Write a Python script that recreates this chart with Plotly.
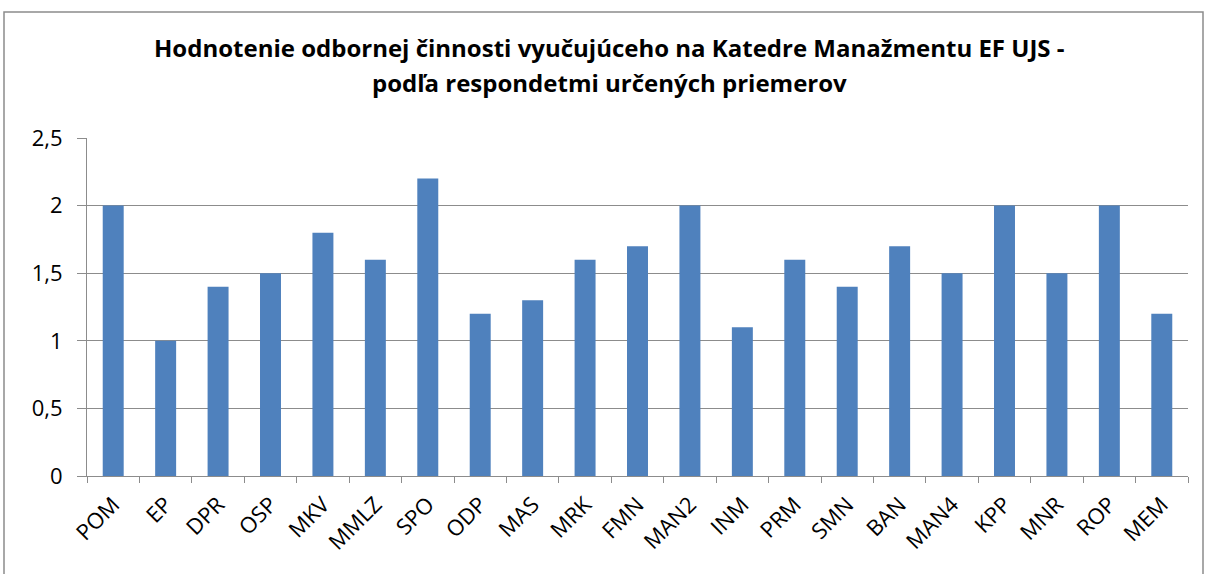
import plotly.graph_objects as go

categories = ["POM", "EP", "DPR", "OSP", "MKV", "MMLZ", "SPO", "ODP", "MAS", "MRK", "FMN",
              "MAN2", "INM", "PRM", "SMN", "BAN", "MAN4", "KPP", "MNR", "ROP", "MEM"]
values = [2.0, 1.0, 1.4, 1.5, 1.8, 1.6, 2.2, 1.2, 1.3, 1.6, 1.7,
          2.0, 1.1, 1.6, 1.4, 1.7, 1.5, 2.0, 1.5, 2.0, 1.2]
y_ticks = [0, 0.5, 1, 1.5, 2, 2.5]
y_tick_labels = ["0", "0,5", "1", "1,5", "2", "2,5"]
title_line1 = "Hodnotenie odbornej činnosti vyučujúceho na Katedre Manažmentu EF UJS -"
title_line2 = "podľa respondetmi určených priemerov"

W, H = 1205, 574
L, R, T, B = 87, 17, 138, 98
pw, ph = W - L - R, H - T - B
FONT = "Open Sans, Lato, sans-serif"


def px_x(x):
    return (x - L) / pw


def px_y(y):
    return 1 + (T - y) / ph


fig = go.Figure(go.Bar(x=categories, y=values, marker=dict(color="#4F81BD", line=dict(width=0))))

grid = "#8c8c8c"
fig.update_layout(
    width=W, height=H,
    margin=dict(l=L, r=R, t=T, b=B),
    paper_bgcolor="white", plot_bgcolor="white",
    bargap=0.6,
    showlegend=False,
    font=dict(family=FONT, color="black"),
    xaxis=dict(type="category", showgrid=False, showline=True, linecolor=grid, linewidth=1,
               ticks="outside", tickson="boundaries", ticklen=6, tickcolor=grid,
               tickangle=-45, tickfont=dict(size=22), ticklabelstandoff=6,
               range=[-0.5, len(categories) - 0.5]),
    yaxis=dict(range=[0, 2.5], tickvals=y_ticks, ticktext=y_tick_labels, showgrid=True,
               gridcolor=grid, gridwidth=1, showline=True, linecolor=grid, linewidth=1,
               ticks="outside", ticklen=9, tickcolor=grid, tickfont=dict(size=22),
               ticklabelstandoff=10, zeroline=False, fixedrange=True),
)

for txt, yy in [(title_line1, 47), (title_line2, 83)]:
    fig.add_annotation(text=txt, xref="paper", yref="paper", x=px_x(609), y=px_y(yy),
                       xanchor="center", yanchor="middle", showarrow=False,
                       font=dict(size=24, family=FONT, color="black", weight="bold"))

# outer chart border
fig.add_shape(type="rect", xref="paper", yref="paper",
              x0=px_x(4), x1=px_x(1203), y0=px_y(H + 10), y1=px_y(12),
              line=dict(color="#8c8c8c", width=1.5), fillcolor="rgba(0,0,0,0)", layer="below")

fig.write_html("out.html", config={"displayModeBar": False},
               post_script="document.body.style.margin='0';")
